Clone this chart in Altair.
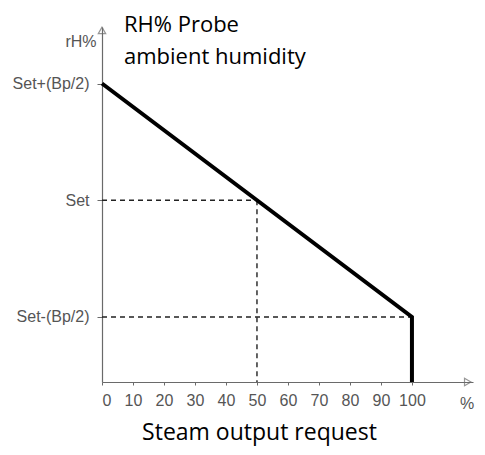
import altair as alt
import pandas as pd

# ---- data ----
x_ticks = [0, 10, 20, 30, 40, 50, 60, 70, 80, 90, 100]
y_levels = [1, 2, 3]
y_labels = ["Set-(Bp/2)", "Set", "Set+(Bp/2)"]

X_MAX = 119.7
Y_MIN = 0.443
Y_MAX = 3.484

curve_x = [0, 100, 100]
curve_y = [3, 1, Y_MIN]
curve_order = [0, 1, 2]

dash_x = [0, 50, 0]
dash_x2 = [50, 50, 100]
dash_y = [2, 2, 1]
dash_y2 = [2, Y_MIN, 1]

arrow_x = [118.0, 0]
arrow_y = [Y_MIN, 3.455]
arrow_shape = ["triangle-right", "triangle-up"]

GRAY = "#555555"
AXIS_GRAY = "#6a6a6a"

xscale = alt.Scale(domain=[0, X_MAX], nice=False, zero=False)
yscale = alt.Scale(domain=[Y_MIN, Y_MAX], nice=False, zero=False)

label_expr = "datum.value == 1 ? 'Set-(Bp/2)' : datum.value == 2 ? 'Set' : 'Set+(Bp/2)'"

xaxis = alt.Axis(
    values=x_ticks, grid=False, domainColor=AXIS_GRAY, domainWidth=1.2,
    tickColor=AXIS_GRAY, tickSize=3, labelPadding=7,
    labelFont="Liberation Sans", labelFontSize=16, labelColor=GRAY,
    title="Steam output request", titleFont="Open Sans", titleFontSize=23,
    titleFontWeight="normal", titleColor="#000000", titleX=157, titleY=57,
    titleAlign="center", titleBaseline="alphabetic",
)
yaxis = alt.Axis(
    values=y_levels, labelExpr=label_expr, grid=False, domainColor=AXIS_GRAY,
    domainWidth=1.2, tickColor=AXIS_GRAY, tickSize=5, labelPadding=8,
    labelFont="Liberation Sans", labelFontSize=16, labelColor=GRAY,
    title="rH%", titleFont="Liberation Sans", titleFontSize=16,
    titleFontWeight="normal", titleColor=GRAY, titleAngle=0, titleX=-6,
    titleY=14, titleAlign="right", titleBaseline="middle",
)

def X(field):
    return alt.X(field, type="quantitative", scale=xscale, axis=xaxis)

def Y(field):
    return alt.Y(field, type="quantitative", scale=yscale, axis=yaxis)

curve_df = pd.DataFrame({"x": curve_x, "y": curve_y, "o": curve_order})
dash_df = pd.DataFrame({"x": dash_x, "x2": dash_x2, "y": dash_y, "y2": dash_y2})
arrow_df = pd.DataFrame({"x": arrow_x, "y": arrow_y, "s": arrow_shape})

dashes = alt.Chart(dash_df).mark_rule(
    color="#222222", strokeWidth=1.4, strokeDash=[5, 4]
).encode(x=X("x"), x2="x2", y=Y("y"), y2="y2")

curve = alt.Chart(curve_df).mark_line(
    color="#000000", strokeWidth=4, strokeJoin="miter"
).encode(x=X("x"), y=Y("y"), order="o:Q")

arrows = alt.Chart(arrow_df).mark_point(
    filled=False, color=AXIS_GRAY, strokeWidth=1.2, size=55
).encode(
    x=X("x"), y=Y("y"),
    shape=alt.Shape("s:N", scale=None, legend=None),
)

ann_df = pd.DataFrame({"t": ["RH% Probe", "ambient humidity"], "ypix": [5, 37]})
title_text = alt.Chart(ann_df).mark_text(
    align="left", baseline="alphabetic", font="Open Sans", fontSize=22,
    color="#000000",
).encode(x=alt.value(22), y=alt.Y("ypix:Q", scale=None), text="t:N")

pct_df = pd.DataFrame({"t": ["%"]})
pct_text = alt.Chart(pct_df).mark_text(
    align="center", baseline="middle", font="Liberation Sans", fontSize=16,
    color=GRAY,
).encode(x=alt.value(365), y=alt.value(377), text="t:N")

chart = alt.layer(dashes, curve, arrows, title_text, pct_text).properties(
    width=371, height=355,
    padding={"left": 94, "top": 19, "right": 4, "bottom": 65},
    autosize="none",
).configure_view(stroke=None)

chart.save("out.html", embed_options={"renderer": "svg", "actions": False})
